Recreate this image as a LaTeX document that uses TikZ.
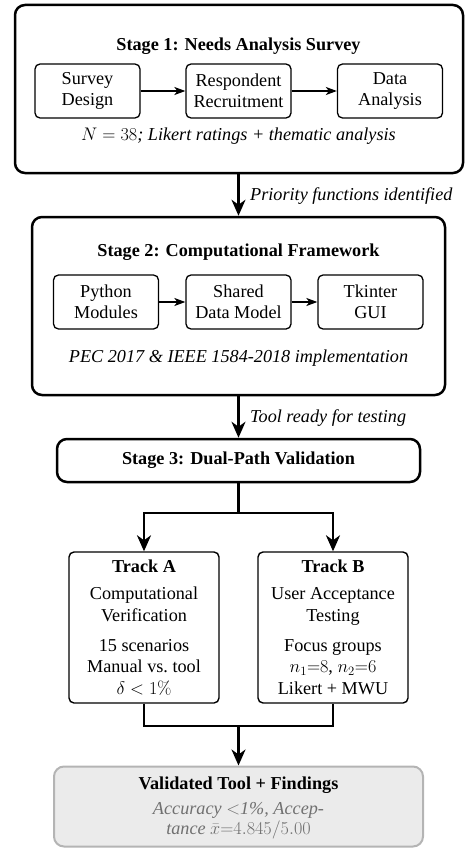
\RequirePackage{fix-cm}
\documentclass[tikz,border=0pt]{standalone}
\usepackage[no-math]{fontspec}
\setmainfont{Liberation Serif}
\usetikzlibrary{arrows.meta}
\definecolor{txtgray}{HTML}{707070}
\definecolor{fingray}{HTML}{EBEBEB}
\definecolor{finborder}{HTML}{B4B4B4}
\tikzset{
  txt/.style={inner sep=0pt, align=center, font=\fontsize{18.2}{20.5}\selectfont},
  stagebox/.style={draw, line width=2.5pt, rounded corners=10pt, inner sep=0pt},
  ibox/.style={draw, line width=1.3pt, rounded corners=5pt, inner sep=0pt, align=center,
    minimum width=105pt, minimum height=54pt, font=\fontsize{18.2}{20.5}\selectfont},
  trackbox/.style={draw, line width=1.4pt, rounded corners=5pt, inner sep=0pt, align=center,
    minimum width=150pt, minimum height=151pt, font=\fontsize{18.2}{21.5}\selectfont},
  smallarrow/.style={line width=1.5pt, -{Stealth[length=11pt,width=8pt,inset=3pt]}},
  conn/.style={line width=2.5pt},
  bigarrow/.style={line width=2.5pt, -{Stealth[length=16pt,width=14pt,inset=5pt]}},
  lbl/.style={inner sep=0pt, anchor=west, font=\fontsize{18.2}{20.5}\selectfont\itshape},
}
\begin{document}
\begin{tikzpicture}[x=1pt,y=-1pt]
\useasboundingbox (0,0) rectangle (468,848);

% Stage 1
\node[stagebox, minimum width=448pt, minimum height=168pt] (s1) at (239,89) {};
\node[txt] (t1) at (238.5,46) {\textbf{Stage 1: Needs Analysis Survey}};
\node[ibox] (sd) at (87.5,91) {Survey\\Design};
\node[ibox] (rr) at (238.5,91) {Respondent\\Recruitment};
\node[ibox] (da) at (390,91) {Data\\Analysis};
\draw[smallarrow] (sd) -- (rr);
\draw[smallarrow] (rr) -- (da);
\node[txt] (n1) at (238.5,136) {$N=38$\textit{; Likert ratings + thematic analysis}};

% Stage 2
\node[stagebox, minimum width=413pt, minimum height=178pt] (s2) at (238.5,306) {};
\node[txt] (t2) at (238.5,252) {\textbf{Stage 2: Computational Framework}};
\node[ibox] (pm) at (106,302) {Python\\Modules};
\node[ibox] (sm) at (238.5,302) {Shared\\Data Model};
\node[ibox] (tg) at (370.5,302) {Tkinter\\GUI};
\draw[smallarrow] (pm) -- (sm);
\draw[smallarrow] (sm) -- (tg);
\node[txt] (n2) at (238.5,358) {\textit{PEC 2017 \& IEEE 1584-2018 implementation}};

% arrow 1 -> 2
\draw[bigarrow] (s1.south -| s2.north) -- (s2.north);
\node[lbl] (l1) at (250,196) {Priority functions identified};

% Stage 3
\node[stagebox, minimum width=363pt, minimum height=43pt, font=\fontsize{18.2}{20.5}\selectfont] (s3) at (238.5,460.5) {\textbf{Stage 3: Dual-Path Validation}};
\draw[bigarrow] (s2.south) -- (s3.north);
\node[lbl] (l2) at (250,418) {Tool ready for testing};

% Tracks
\node[trackbox] (ta) at (144,627.5) {\textbf{Track A}\\[5.5pt]Computational\\Verification\\[8.5pt]15 scenarios\\Manual vs.\ tool\\$\delta<1\%$};
\node[trackbox] (tb) at (333,627.5) {\textbf{Track B}\\[5.5pt]User Acceptance\\Testing\\[8.5pt]Focus groups\\$n_1{=}8$, $n_2{=}6$\\Likert + MWU};

\coordinate (split) at (238.5,513);
\draw[conn] (s3.south) -- (split);
\draw[bigarrow] (split) -| (ta.north);
\draw[bigarrow] (split) -| (tb.north);

% Final
\node[draw=finborder, fill=fingray, line width=2pt, rounded corners=10pt, inner sep=0pt,
  minimum width=369pt, minimum height=80pt] (fin) at (238.5,806.5) {};
\node[txt, font=\fontsize{18.2}{20.5}\selectfont] (ft) at (238.5,808) {\textbf{Validated Tool + Findings}\\[4pt]
  \textcolor{txtgray}{\textit{Accuracy} $<$\textit{1\%, Accep-}}\\
  \textcolor{txtgray}{\textit{tance} $\bar{x}{=}4.845/5.00$}};

\coordinate (merge) at (238.5,726);
\draw[conn] (ta.south) |- (merge);
\draw[conn] (tb.south) |- (merge);
\draw[bigarrow] (merge) -- (fin.north);
\end{tikzpicture}
\end{document}
